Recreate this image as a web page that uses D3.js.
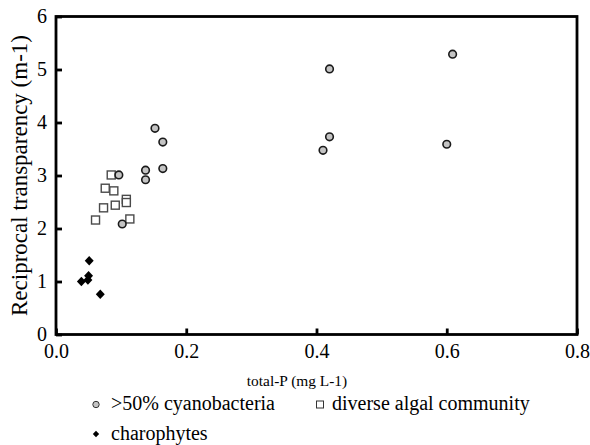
<!DOCTYPE html>
<html><head><meta charset="utf-8">
<script src="https://cdn.jsdelivr.net/npm/d3@7"></script>
<style>body{margin:0;background:#fff}svg{display:block}</style>
</head><body><svg id="c" width="590" height="445"></svg>
<script>
const cyanoX = [0.152,0.164,0.164,0.1375,0.1375,0.0965,0.1017,0.420,0.420,0.410,0.609,0.600];
const cyanoY = [3.89,3.63,3.13,3.10,2.92,3.01,2.085,5.01,3.73,3.475,5.29,3.59];
const diverseX = [0.0848,0.0756,0.0888,0.108,0.108,0.091,0.073,0.1134,0.0607];
const diverseY = [3.01,2.76,2.71,2.55,2.49,2.44,2.39,2.18,2.16];
const charoX = [0.051,0.050,0.049,0.039,0.068];
const charoY = [1.39,1.11,1.03,1.00,0.76];
const xTicks = [0.0,0.2,0.4,0.6,0.8];
const yTicks = [0,1,2,3,4,5,6];
const legendLabels = [">50% cyanobacteria","diverse algal community","charophytes"];

const FONT = '"Liberation Serif"';
const svg = d3.select("#c");
const x = d3.scaleLinear().domain([0,0.8]).range([56,577]);
const y = d3.scaleLinear().domain([0,6]).range([334.5,16.5]);

svg.append("rect").attr("x",x(0)).attr("y",y(6)).attr("width",x(0.8)-x(0)).attr("height",y(0)-y(6))
  .attr("fill","none").attr("stroke","#000").attr("stroke-width",2.8);

const xa = svg.append("g").attr("transform",`translate(0,${y(0)})`)
  .call(d3.axisBottom(x).tickValues(xTicks).tickFormat(d3.format(".1f")).tickSizeInner(-6).tickSizeOuter(0).tickPadding(9));
xa.attr("font-family",null);
xa.select(".domain").remove();
xa.selectAll("line").attr("stroke-width",2.8);
xa.selectAll("text").style("font-family",FONT).attr("font-size",20).attr("fill","#000");

const ya = svg.append("g").attr("transform",`translate(${x(0)},0)`)
  .call(d3.axisLeft(y).tickValues(yTicks).tickFormat(d3.format("d")).tickSizeInner(-6).tickSizeOuter(0).tickPadding(9));
ya.attr("font-family",null);
ya.select(".domain").remove();
ya.selectAll("line").attr("stroke-width",2.8);
ya.selectAll("text").style("font-family",FONT).attr("font-size",20).attr("fill","#000");

svg.append("text").attr("x",297).attr("y",386).attr("text-anchor","middle").style("font-family",FONT).attr("font-size",15.4).text("total-P (mg L-1)");
svg.append("text").attr("transform",`translate(27,${y(3)}) rotate(-90)`).attr("text-anchor","middle").style("font-family",FONT).attr("font-size",23).text("Reciprocal transparency (m-1)");

const g = svg.append("g");
const diverse = diverseX.map((v,i)=>[v,diverseY[i]]);
const cyano = cyanoX.map((v,i)=>[v,cyanoY[i]]);
const charo = charoX.map((v,i)=>[v,charoY[i]]);

g.selectAll(".sq").data(diverse).enter().append("rect")
  .attr("x",d=>x(d[0])-4).attr("y",d=>y(d[1])-4).attr("width",8).attr("height",8)
  .attr("fill","#fff").attr("stroke","#4a4a4a").attr("stroke-width",1.4);
g.selectAll(".ci").data(cyano).enter().append("circle")
  .attr("cx",d=>x(d[0])).attr("cy",d=>y(d[1])).attr("r",3.8)
  .attr("fill","#c4c4c4").attr("stroke","#1a1a1a").attr("stroke-width",1.6);
const dsym = d3.symbol().type(d3.symbolSquare).size(40);
g.selectAll(".di").data(charo).enter().append("path")
  .attr("d",dsym).attr("transform",d=>`translate(${x(d[0])},${y(d[1])}) scale(1,1.07) rotate(45)`)
  .attr("fill","#000");

const leg = svg.append("g");
leg.append("circle").attr("cx",96).attr("cy",404.5).attr("r",3.2).attr("fill","#c4c4c4").attr("stroke","#333").attr("stroke-width",1);
leg.append("text").attr("x",111).attr("y",410).style("font-family",FONT).attr("font-size",20).text(legendLabels[0]);
leg.append("rect").attr("x",316.5).attr("y",401).attr("width",7).attr("height",7).attr("fill","#fff").attr("stroke","#333").attr("stroke-width",1);
leg.append("text").attr("x",332).attr("y",410).style("font-family",FONT).attr("font-size",20).text(legendLabels[1]);
leg.append("path").attr("d",d3.symbol().type(d3.symbolSquare).size(20)).attr("transform","translate(96,434) rotate(45)").attr("fill","#000");
leg.append("text").attr("x",111).attr("y",440).style("font-family",FONT).attr("font-size",20).text(legendLabels[2]);
</script></body></html>
